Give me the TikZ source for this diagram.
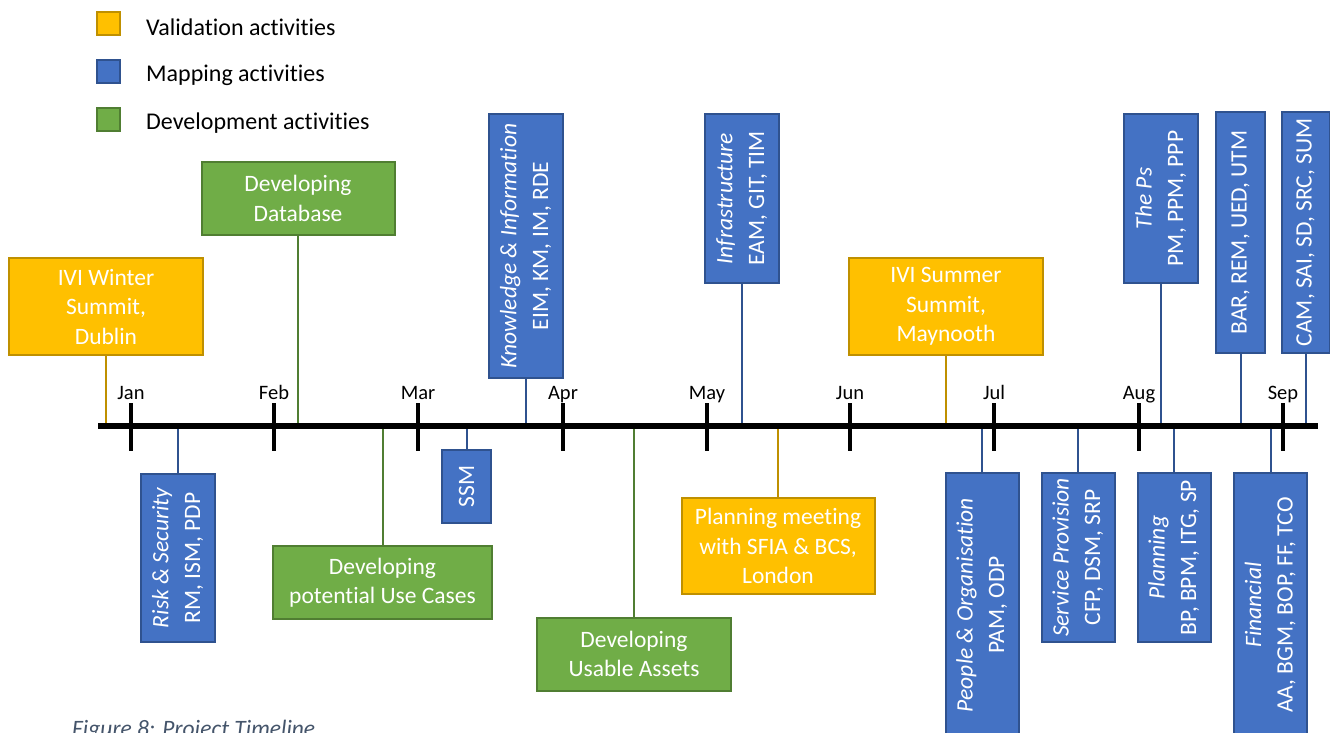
\documentclass[tikz,border=0pt]{standalone}
\usepackage{fontspec}
\setmainfont{Carlito}[Ligatures=NoCommon]
\usepackage{graphicx}
\definecolor{yfill}{HTML}{FFC000}
\definecolor{ydraw}{HTML}{BF9000}
\definecolor{bfill}{HTML}{4472C4}
\definecolor{bdraw}{HTML}{2F528F}
\definecolor{gfill}{HTML}{70AD47}
\definecolor{gdraw}{HTML}{507E32}
\definecolor{capcol}{HTML}{44546A}
\newcommand\rtext[2]{\rotatebox{90}{\begin{tabular}{@{}c@{}}\itshape #1\\#2\end{tabular}}}
\newcommand\rone[1]{\rotatebox{90}{#1}}
\tikzset{
  base/.style={line width=2pt, text=white, align=center, inner sep=0pt,
     font=\fontsize{23.5}{29.5}\selectfont},
  vbox/.style={base, draw=ydraw, fill=yfill},
  gbox/.style={base, draw=gdraw, fill=gfill},
  bbox/.style={base, draw=bdraw, fill=bfill, font=\fontsize{23.5}{31.7}\selectfont},
  sz/.style args={#1x#2}{minimum width=#1pt, minimum height=#2pt},
  yline/.style={draw=ydraw, line width=2pt},
  gline/.style={draw=gdraw, line width=2pt},
  bline/.style={draw=bdraw, line width=2pt},
  month/.style={font=\fontsize{20.5}{24}\selectfont, inner sep=0pt},
  legtext/.style={font=\fontsize{24}{28}\selectfont, anchor=west, inner sep=0pt},
  legsq/.style={line width=2pt, minimum width=23pt, minimum height=23pt, inner sep=0pt},
}
\begin{document}
\begin{tikzpicture}[x=1pt, y=-1pt]
\useasboundingbox (0,0) rectangle (1330,733);
\clip (0,0) rectangle (1330,733);

% legend
\node[legsq, draw=ydraw, fill=yfill] (ly) at (108,24) {};
\node[legsq, draw=bdraw, fill=bfill] (lb) at (108,72) {};
\node[legsq, draw=gdraw, fill=gfill] (lg) at (108,120) {};
\node[legtext] (lyt) at (146,27) {Validation activities};
\node[legtext] (lbt) at (146,75) {Mapping activities};
\node[legtext] (lgt) at (146,123) {Development activities};

% timeline coordinates
\coordinate (tlL) at (98,426);
\coordinate (tlR) at (1318,426);

% boxes above
\node[vbox, sz=194x97] (win) at (106,306.5) {IVI Winter\\Summit,\\Dublin};
\node[gbox, sz=193x73] (db) at (298,198.5) {Developing\\Database};
\node[bbox, sz=74x264] (kim) at (526,246) {\rtext{Knowledge \& Information}{EIM, KM, IM, RDE}};
\node[bbox, sz=74x169] (inf) at (742,198.5) {\rtext{Infrastructure}{EAM, GIT, TIM}};
\node[vbox, sz=194x97] (sum) at (946,306.5) {IVI Summer\\Summit,\\Maynooth};
\node[bbox, sz=74x169] (ps) at (1161,198.5) {\rtext{The Ps}{PM, PPM, PPP}};
\node[bbox, sz=49x241] (bar) at (1240.5,232.5) {\rone{BAR, REM, UED, UTM}};
\node[bbox, sz=48x241] (cam) at (1305.5,232.5) {\rone{CAM, SAI, SD, SRC, SUM}};

% boxes below
\node[bbox, sz=74x168] (risk) at (178,558) {\rtext{Risk \& Security}{RM, ISM, PDP}};
\node[gbox, sz=219x73] (uc) at (382.5,582.5) {Developing\\potential Use Cases};
\node[bbox, sz=49x73] (ssm) at (466.5,486.5) {\rone{SSM}};
\node[gbox, sz=194x73] (ua) at (634,654) {Developing\\Usable Assets};
\node[vbox, sz=193x96] (pm) at (778,546) {Planning meeting\\with SFIA \& BCS,\\London};
\node[bbox, sz=73x264] (po) at (982,605) {\rtext{People \& Organisation}{PAM, ODP}};
\node[bbox, sz=73x169] (sp) at (1078,557.5) {\rtext{Service Provision}{CFP, DSM, SRP}};
\node[bbox, sz=73x169] (pl) at (1174,557.5) {\rtext{Planning}{BP, BPM, ITG, SP}};
\node[bbox, sz=73x264] (fin) at (1270.5,605) {\rtext{Financial}{AA, BGM, BOP, FF, TCO}};

% connectors
\draw[yline] (win.south) -- (win.south |- tlL);
\draw[gline] (db.south) -- (db.south |- tlL);
\draw[bline] (kim.south) -- (kim.south |- tlL);
\draw[bline] (inf.south) -- (inf.south |- tlL);
\draw[yline] (sum.south) -- (sum.south |- tlL);
\draw[bline] (ps.south) -- (ps.south |- tlL);
\draw[bline] (bar.south) -- (bar.south |- tlL);
\draw[bline] (cam.south) -- (cam.south |- tlL);
\draw[bline] (risk.north) -- (risk.north |- tlL);
\draw[gline] (uc.north) -- (uc.north |- tlL);
\draw[bline] (ssm.north) -- (ssm.north |- tlL);
\draw[gline] (ua.north) -- (ua.north |- tlL);
\draw[yline] (pm.north) -- (pm.north |- tlL);
\draw[bline] (po.north) -- (po.north |- tlL);
\draw[bline] (sp.north) -- (sp.north |- tlL);
\draw[bline] (pl.north) -- (pl.north |- tlL);
\draw[bline] (fin.north) -- (fin.north |- tlL);

% timeline
\draw[line width=6pt] (tlL) -- (tlR);
\foreach \x/\m in {131/Jan,274/Feb,418/Mar,563/Apr,707/May,850/Jun,994/Jul,1139/Aug,1283/Sep}{
  \draw[line width=4pt] (\x,403) -- (\x,451);
  \node[month, anchor=base] (m\m) at (\x,399) {\m};
}

% caption
\node[anchor=base west, inner sep=0pt, text=capcol, font=\fontsize{23.5}{27}\selectfont\itshape] (cap) at (72,736) {Figure 8: Project Timeline};
\end{tikzpicture}
\end{document}
